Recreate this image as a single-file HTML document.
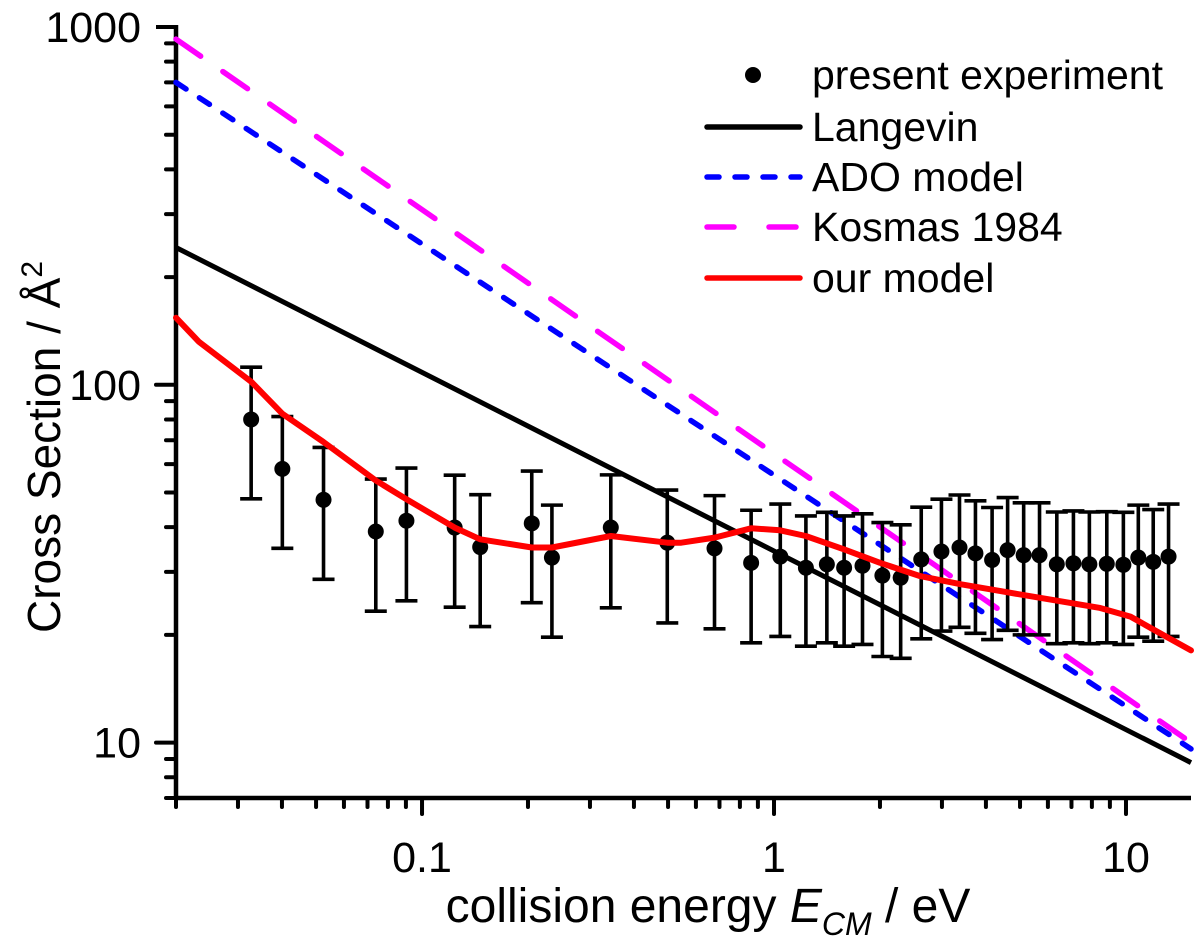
<!DOCTYPE html>
<html><head><meta charset="utf-8"><style>
html,body{margin:0;padding:0;background:#fff;}
svg{display:block;font-family:"Liberation Sans",Arial,sans-serif;}
</style></head><body>
<svg id="chart" width="1200" height="947" viewBox="0 0 1200 947" xmlns="http://www.w3.org/2000/svg">
<g id="grid-layer"></g>
</svg>
<script>
const expE=[0.0327,0.0401,0.0525,0.0739,0.0903,0.1238,0.1463,0.205,0.2339,0.3438,0.4975,0.6776,0.861,1.042,1.232,1.413,1.582,1.784,2.032,2.29,2.62,2.99,3.365,3.735,4.165,4.61,5.12,5.68,6.36,7.09,7.87,8.82,9.83,10.84,11.95,13.21];
const expSigma=[80,58.2,47.7,38.9,41.7,39.9,35.2,41.0,32.9,39.9,36.2,34.9,31.8,33.1,30.8,31.5,30.8,31.2,29.3,28.9,32.5,34.2,35.1,33.8,32.4,34.5,33.4,33.4,31.5,31.7,31.5,31.6,31.4,32.9,32.0,33.1];
const expErr=[32,23.3,19.1,15.6,16.8,16,14.1,16.4,13.2,16.1,14.6,14.1,12.8,13.3,12.2,12.5,12.2,12.4,11.9,11.7,13,13.7,14.1,13.6,13,13.9,13.4,13.4,12.6,12.7,12.6,12.6,12.6,13.2,12.8,13.3];
const lineE=[0.02,15.3];
const langevinSigma=[242,8.79];
const adoSigma=[700,9.6];
const kosmasSigma=[925,10.0];
const modelE=[0.02,0.0232,0.0327,0.0401,0.0525,0.0739,0.0903,0.1238,0.1463,0.205,0.234,0.344,0.4975,0.545,0.678,0.861,1.04,1.23,1.58,2.0,2.6,3.4,4.4,6.1,8.4,10.3,12.5,15.3];
const modelSigma=[154,132,102,83,69.2,54,47.9,39.9,37,35.1,35.1,37.8,36.2,36.2,37.4,39.7,39.2,37.8,34.7,31.8,29.2,27.7,26.5,25.1,23.8,22.5,20.2,18.1];
const xTickVals=[0.1,1,10];
const xTickLabels=["0.1","1","10"];
const yTickVals=[10,100,1000];
const yTickLabels=["10","100","1000"];

const NS="http://www.w3.org/2000/svg";
const svg=document.getElementById('chart');
const L=176,R=1191,T=27,B=798;
const xmin=0.02,xmax=15.3,ymin=7,ymax=1000;
function X(v){return L+(Math.log10(v)-Math.log10(xmin))/(Math.log10(xmax)-Math.log10(xmin))*(R-L);}
function Y(v){return T+(Math.log10(ymax)-Math.log10(v))/(Math.log10(ymax)-Math.log10(ymin))*(B-T);}
function mk(tag,attrs,parent){const e=document.createElementNS(NS,tag);for(const k in attrs)e.setAttribute(k,attrs[k]);(parent||svg).appendChild(e);return e;}

const ax=mk('g',{});


const yl=mk('line',{x1:L,y1:T-2,x2:L,y2:B+2,stroke:'#000','stroke-width':4.5},ax);


const xl=mk('line',{x1:L-2,y1:B,x2:R,y2:B,stroke:'#000','stroke-width':4.5},ax);


for(let d=1;d<=3;d++){for(let m=1;m<10;m++){const v=m*Math.pow(10,d-1);if(v<ymin||v>ymax)continue;const y=Y(v);const len=(m===1)?20:10;
const t=mk('line',{x1:L-len,y1:y,x2:L,y2:y,stroke:'#000','stroke-width':4,'stroke-linecap':'round'},ax);

}}
const yTop=mk('line',{x1:L-20,y1:Y(1000),x2:L,y2:Y(1000),stroke:'#000','stroke-width':4},ax);


yTickVals.forEach((v,i)=>{const t=mk('text',{x:141,y:Y(v)+15,'text-anchor':'end','font-size':43},ax);t.textContent=yTickLabels[i];

});
for(let d=-2;d<=1;d++){for(let m=1;m<10;m++){const v=m*Math.pow(10,d);if(v<xmin*0.999||v>xmax)continue;const x=X(v);const len=(m===1)?16:9;
const t=mk('line',{x1:x,y1:B,x2:x,y2:B+len,stroke:'#000','stroke-width':4,'stroke-linecap':'round'},ax);

}}
xTickVals.forEach((v,i)=>{const t=mk('text',{x:X(v),y:872,'text-anchor':'middle','font-size':43},ax);t.textContent=xTickLabels[i];

});
const xt=mk('text',{x:708,y:922,'text-anchor':'middle','font-size':48},ax);


xt.innerHTML='collision energy <tspan font-style="italic">E</tspan><tspan font-style="italic" font-size="32" dy="13">CM</tspan><tspan dy="-13"> / eV</tspan>';
const yt=mk('text',{x:0,y:0,'text-anchor':'middle','font-size':46,transform:'translate(60,447) rotate(-90)'},ax);


yt.innerHTML='Cross Section / Å<tspan font-size="30" dy="-18">2</tspan>';

function poly(xs,ys,attrs,name){const d=xs.map((v,i)=>(i?'L':'M')+X(v).toFixed(1)+','+Y(ys[i]).toFixed(1)).join(' ');
const p=mk('path',Object.assign({d:d,fill:'none'},attrs));


return p;}
poly(lineE,kosmasSigma,{stroke:'#ff00ff','stroke-width':5.5,'stroke-dasharray':'30 27','stroke-linecap':'round'},'kosmas-1984-line');
poly(lineE,adoSigma,{stroke:'#0000ff','stroke-width':5.5,'stroke-dasharray':'12 16','stroke-linecap':'round'},'ado-model-line');
poly(lineE,langevinSigma,{stroke:'#000','stroke-width':5},'langevin-line');

const eg=mk('g',{});


expE.forEach((e,i)=>{const x=X(e),yt2=Y(expSigma[i]+expErr[i]),yb=Y(expSigma[i]-expErr[i]);
const g=mk('g',{},eg);


mk('line',{x1:x,y1:yt2,x2:x,y2:yb,stroke:'#000','stroke-width':3.6},g);
mk('line',{x1:x-11,y1:yt2,x2:x+11,y2:yt2,stroke:'#000','stroke-width':3.6},g);
mk('line',{x1:x-11,y1:yb,x2:x+11,y2:yb,stroke:'#000','stroke-width':3.6},g);
mk('circle',{cx:x,cy:Y(expSigma[i]),r:8,fill:'#000'},g);});

poly(modelE,modelSigma,{stroke:'#ff0000','stroke-width':6,'stroke-linejoin':'round','stroke-linecap':'round'},'our-model-line');

const lg=mk('g',{});


const rows=[75,127,177,227,278];
const labels=['present experiment','Langevin','ADO model','Kosmas 1984','our model'];
rows.forEach((y,i)=>{const t=mk('text',{x:812,y:y+14,'font-size':41},lg);t.textContent=labels[i];

});
const ld=mk('circle',{cx:753,cy:rows[0],r:8,fill:'#000'},lg);


const styles=[null,{stroke:'#000'},{stroke:'#0000ff','stroke-dasharray':'12 16'},{stroke:'#ff00ff','stroke-dasharray':'27 35'},{stroke:'#ff0000'}];
const lnames=[null,'legend-marker-langevin','legend-marker-ado','legend-marker-kosmas','legend-marker-model'];
for(let i=1;i<5;i++){const l=mk('line',Object.assign({x1:707,y1:rows[i],x2:800,y2:rows[i],'stroke-width':5.5,'stroke-linecap':'round'},styles[i]),lg);

}
</script>
</body></html>
